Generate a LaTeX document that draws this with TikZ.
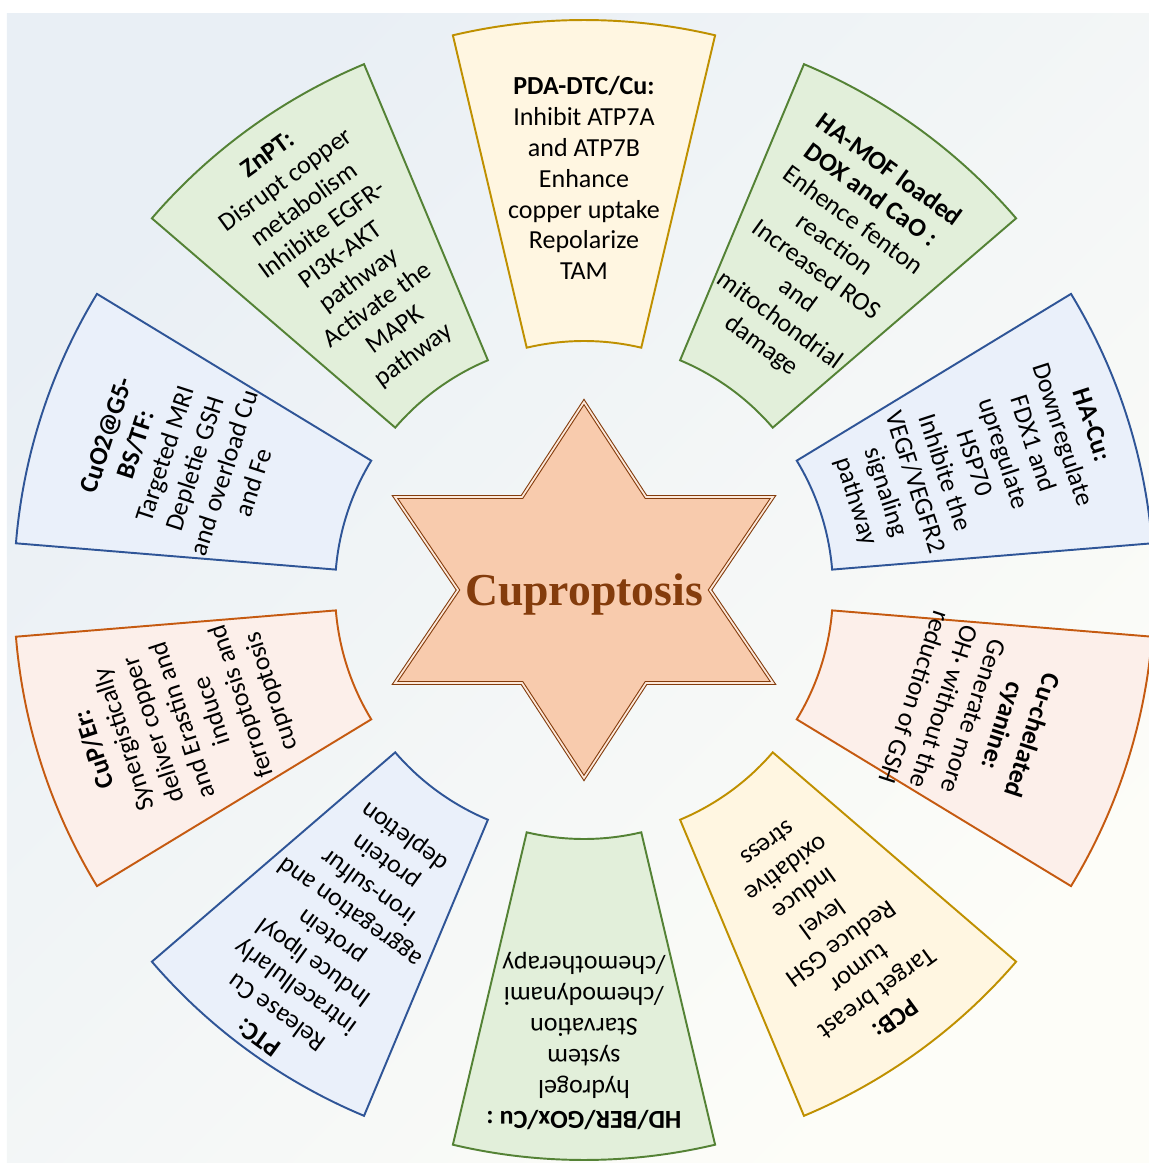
\documentclass[tikz,border=0pt]{standalone}
\usepackage{fontspec}
\setmainfont{Carlito}
\newfontfamily\starfont{Liberation Serif}
\usepackage{xcolor}
\definecolor{bgtop}{HTML}{E9EFF5}
\definecolor{bgbot}{HTML}{FDFDF8}
\definecolor{yelfill}{HTML}{FFF6E1}
\definecolor{yeldraw}{HTML}{BF9000}
\definecolor{grnfill}{HTML}{E2EFDA}
\definecolor{grndraw}{HTML}{548235}
\definecolor{blufill}{HTML}{EAF0FA}
\definecolor{bludraw}{HTML}{2F5597}
\definecolor{orgfill}{HTML}{FCEFEA}
\definecolor{orgdraw}{HTML}{C55A11}
\definecolor{starfill}{HTML}{F8CBAD}
\definecolor{starbrown}{HTML}{843C0C}

\begin{document}
\begin{tikzpicture}[scale=0.2,
  yellowpart/.style={fill=yelfill, draw=yeldraw, line width=1.1pt},
  greenpart/.style={fill=grnfill, draw=grndraw, line width=1.1pt},
  bluepart/.style={fill=blufill, draw=bludraw, line width=1.1pt},
  orangepart/.style={fill=orgfill, draw=orgdraw, line width=1.1pt},
  parttext/.style={align=center, inner sep=0pt, font=\fontsize{14.8}{17.6}\selectfont}]
  \useasboundingbox (-58.4,-57.3) rectangle (56.5,59.0);

  % Background
  \shade[top color=bgtop, bottom color=bgbot, shading angle=45] (-57.7,-57.3) rectangle (56.5,57.6);

  % Ring parts
  \draw[yellowpart] (76.7:57) arc[start angle=76.7,end angle=103.3,radius=57] -- (103.3:24.9) arc[start angle=103.3,end angle=76.7,radius=24.9] -- cycle;
  \draw[greenpart] (40.7:57) arc[start angle=40.7,end angle=67.3,radius=57] -- (67.3:24.9) arc[start angle=67.3,end angle=40.7,radius=24.9] -- cycle;
  \draw[bluepart] (4.7:57) arc[start angle=4.7,end angle=31.3,radius=57] -- (31.3:24.9) arc[start angle=31.3,end angle=4.7,radius=24.9] -- cycle;
  \draw[orangepart] (-31.3:57) arc[start angle=-31.3,end angle=-4.7,radius=57] -- (-4.7:24.9) arc[start angle=-4.7,end angle=-31.3,radius=24.9] -- cycle;
  \draw[yellowpart] (-67.3:57) arc[start angle=-67.3,end angle=-40.7,radius=57] -- (-40.7:24.9) arc[start angle=-40.7,end angle=-67.3,radius=24.9] -- cycle;
  \draw[greenpart] (-103.3:57) arc[start angle=-103.3,end angle=-76.7,radius=57] -- (-76.7:24.9) arc[start angle=-76.7,end angle=-103.3,radius=24.9] -- cycle;
  \draw[bluepart] (-139.3:57) arc[start angle=-139.3,end angle=-112.7,radius=57] -- (-112.7:24.9) arc[start angle=-112.7,end angle=-139.3,radius=24.9] -- cycle;
  \draw[orangepart] (-175.3:57) arc[start angle=-175.3,end angle=-148.7,radius=57] -- (-148.7:24.9) arc[start angle=-148.7,end angle=-175.3,radius=24.9] -- cycle;
  \draw[bluepart] (148.7:57) arc[start angle=148.7,end angle=175.3,radius=57] -- (175.3:24.9) arc[start angle=175.3,end angle=148.7,radius=24.9] -- cycle;
  \draw[greenpart] (112.7:57) arc[start angle=112.7,end angle=139.3,radius=57] -- (139.3:24.9) arc[start angle=139.3,end angle=112.7,radius=24.9] -- cycle;

  % Texts of the parts
  \node[parttext, rotate=0] (pdadtc) at (90:41.2) {\textbf{PDA-DTC/Cu:}\\Inhibit ATP7A\\and ATP7B\\Enhance\\copper uptake\\Repolarize\\TAM};
  \node[parttext, rotate=-36] (hamof) at (54:41) {\textbf{HA-MOF loaded}\\\textbf{DOX and CaO :}\\Enhence fenton\\reaction\\Increased ROS\\and\\mitochondrial\\damage};
  \node[parttext, rotate=-72] (hacu) at (18:40.9) {\textbf{HA-Cu:}\\Downregulate\\FDX1 and\\upregulate\\HSP70\\Inhibite the\\VEGF/VEGFR2\\signaling\\pathway};
  \node[parttext, rotate=-108] (cuchel) at (-18:41) {\textbf{Cu-chelated}\\\textbf{cyanine:}\\Generate more\\OH· without the\\reduction of GSH};
  \node[parttext, rotate=-144] (pcb) at (-54:42.2) {\textbf{PCB:}\\Target breast\\tumor\\Reduce GSH\\level\\Induce\\oxidative\\stress};
  \node[parttext, rotate=180] (hdber) at (-90:45.1) {\textbf{HD/BER/GOx/Cu :}\\hydrogel\\system\\Starvation\\/chemodynami\\/chemotherapy};
  \node[parttext, rotate=144] (ptc) at (-126:42.8) {\textbf{PTC:}\\Release Cu\\intracellularly\\Induce lipoyl\\protein\\aggregation and\\iron-sulfur\\protein\\depletion};
  \node[parttext, rotate=108] (cuper) at (-162:42.1) {\textbf{CuP/Er:}\\Synergistically\\deliver copper\\and Erastin and\\induce\\ferroptosis and\\cuproptosis};
  \node[parttext, rotate=72] (cuotwo) at (162:42.5) {\textbf{CuO2@G5-}\\\textbf{BS/TF:}\\Targeted MRI\\Depletie GSH\\and overload Cu\\and Fe};
  \node[parttext, rotate=36] (znpt) at (126:41.3) {\textbf{ZnPT:}\\Disrupt copper\\metabolism\\Inhibite EGFR-\\PI3K-AKT\\pathway\\Activate the\\MAPK\\pathway};

  % Star
  \draw[fill=starfill, draw=starbrown, double=starfill!45!white, double distance=1pt, line width=0.6pt]
    (0,18.8) -- (6.2,9.3) -- (18.9,9.3) -- (12.6,0) -- (18.9,-9.3) -- (6.2,-9.3) -- (0,-18.8)
    -- (-6.2,-9.3) -- (-18.9,-9.3) -- (-12.6,0) -- (-18.9,9.3) -- (-6.2,9.3) -- cycle;
  \node[anchor=base, inner sep=0pt, text=starbrown, font=\starfont\bfseries\fontsize{26}{30}\selectfont] (cuproptosis) at (0,-1.5) {Cuproptosis};
\end{tikzpicture}
\end{document}
